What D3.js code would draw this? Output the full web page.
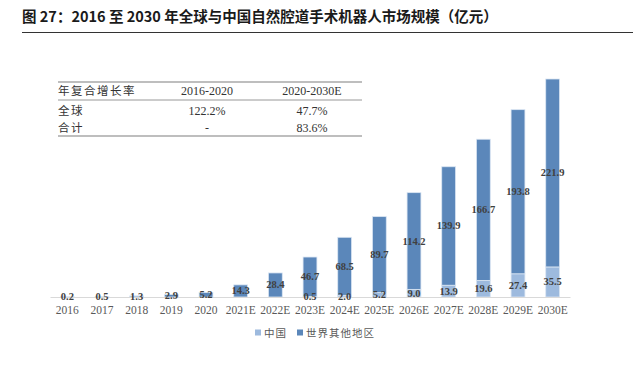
<!DOCTYPE html>
<html>
<head>
<meta charset="utf-8">
<script src="https://cdn.jsdelivr.net/npm/d3@7"></script>
<style>
  body { margin: 0; background: #fff; }
  svg { display: block; }
</style>
</head>
<body>
<div id="chart"></div>
<script>
// data
var years = ['2016','2017','2018','2019','2020','2021E','2022E','2023E','2024E','2025E','2026E','2027E','2028E','2029E','2030E']
var china = [0, 0, 0, 0, 0, 0, 0, 0.5, 2.0, 5.2, 9.0, 13.9, 19.6, 27.4, 35.5]
var rest = [0.2, 0.5, 1.3, 2.9, 5.2, 14.3, 28.4, 46.7, 68.5, 89.7, 114.2, 139.9, 166.7, 193.8, 221.9]
var seriesNames = ['中国', '世界其他地区']

// CAGR table
var tableHead = ['年复合增长率', '2016-2020', '2020-2030E']
var tableRows = [['全球', '122.2%', '47.7%'], ['合计', '-', '83.6%']]

var W = 641, H = 377
var serif = '"Liberation Serif", "Times New Roman", serif'
var cjk = '"Noto Sans CJK SC", sans-serif'

var svg = d3.select('#chart').append('svg').attr('width', W).attr('height', H)

// title
svg.append('text')
  .attr('x', 22).attr('y', 22)
  .style('font-family', cjk).style('font-weight', 'bold')
  .style('font-size', '14.5px').style('fill', '#1a1a1a')
  .text('图 27：2016 至 2030 年全球与中国自然腔道手术机器人市场规模（亿元）')
svg.append('line')
  .attr('x1', 22).attr('x2', 633).attr('y1', 32.5).attr('y2', 32.5)
  .style('stroke', '#333').style('stroke-width', 1.2)

// scales
var baseY = 297
var x = d3.scaleBand().domain(years).range([50, 570]).paddingInner(0.6).paddingOuter(0.3)
var y = d3.scaleLinear().domain([0, 260]).range([baseY, baseY - 220.2])
var color = d3.scaleOrdinal().domain(seriesNames).range(['#9dbade', '#5b87ba'])

var rows = years.map((yr, i) => ({ year: yr, china: china[i], rest: rest[i] }))
var stack = d3.stack().keys(['china', 'rest'])(rows)

// bars
svg.append('g').selectAll('g')
  .data(stack)
  .enter().append('g')
  .style('fill', (s, i) => color(seriesNames[i]))
  .selectAll('rect')
  .data(s => s.map(d => ({ lo: d[0], hi: d[1], year: d.data.year })))
  .enter().append('rect')
  .filter(d => d.hi - d.lo > 0)
  .attr('x', d => x(d.year))
  .attr('y', d => y(d.hi))
  .attr('width', x.bandwidth())
  .attr('height', d => y(d.lo) - y(d.hi))
  .style('stroke', '#dbe6f3').style('stroke-width', 0.8)

// x axis
var xAxis = svg.append('g')
  .attr('transform', 'translate(0,' + baseY + ')')
  .call(d3.axisBottom(x).tickSize(0).tickPadding(9))
xAxis.select('.domain').style('stroke', '#d9d9d9')
xAxis.selectAll('text')
  .style('font-family', serif).style('font-size', '11.5px').style('fill', '#595959')

// value labels, centred in each segment
stack.forEach((s, si) => {
  svg.append('g').selectAll('text')
    .data(s.filter(d => d[1] - d[0] > 0))
    .enter().append('text')
    .attr('x', d => x(d.data.year) + x.bandwidth() / 2)
    .attr('y', d => (y(d[0]) + y(d[1])) / 2 + 3.5)
    .attr('text-anchor', 'middle')
    .style('font-family', serif).style('font-weight', 'bold')
    .style('font-size', '10.5px').style('fill', '#404040')
    .text(d => (d[1] - d[0]).toFixed(1))
})

// table
var colX = [58, 207, 312]
var tbl = svg.append('g')
;[82, 100, 136].forEach((ly, i) => {
  tbl.append('line')
    .attr('x1', 58).attr('x2', 362).attr('y1', ly).attr('y2', ly)
    .style('stroke', '#7f7f7f').style('stroke-width', i == 1 ? 0.8 : 1.2)
})
var allRows = [tableHead].concat(tableRows)
var rowY = [95, 115, 132]
allRows.forEach((r, ri) => {
  r.forEach((cell, ci) => {
    tbl.append('text')
      .attr('x', colX[ci]).attr('y', rowY[ri])
      .attr('text-anchor', ci == 0 ? 'start' : 'middle')
      .style('font-family', ci == 0 ? cjk : serif)
      .style('letter-spacing', ci == 0 ? '1.5px' : '0px')
      .style('font-size', ci == 0 ? '11.5px' : '12px').style('fill', '#333')
      .text(cell)
  })
})

// legend
var legend = svg.append('g').attr('transform', 'translate(255,333)')
var lx = [0, 42]
seriesNames.forEach((n, i) => {
  legend.append('rect')
    .attr('x', lx[i]).attr('y', -3.5).attr('width', 6).attr('height', 6)
    .style('fill', color(n))
  legend.append('text')
    .attr('x', lx[i] + 9).attr('y', 4)
    .style('font-family', cjk).style('font-size', '10.5px')
    .style('letter-spacing', '1px').style('fill', '#595959')
    .text(n)
})
</script>
</body>
</html>
